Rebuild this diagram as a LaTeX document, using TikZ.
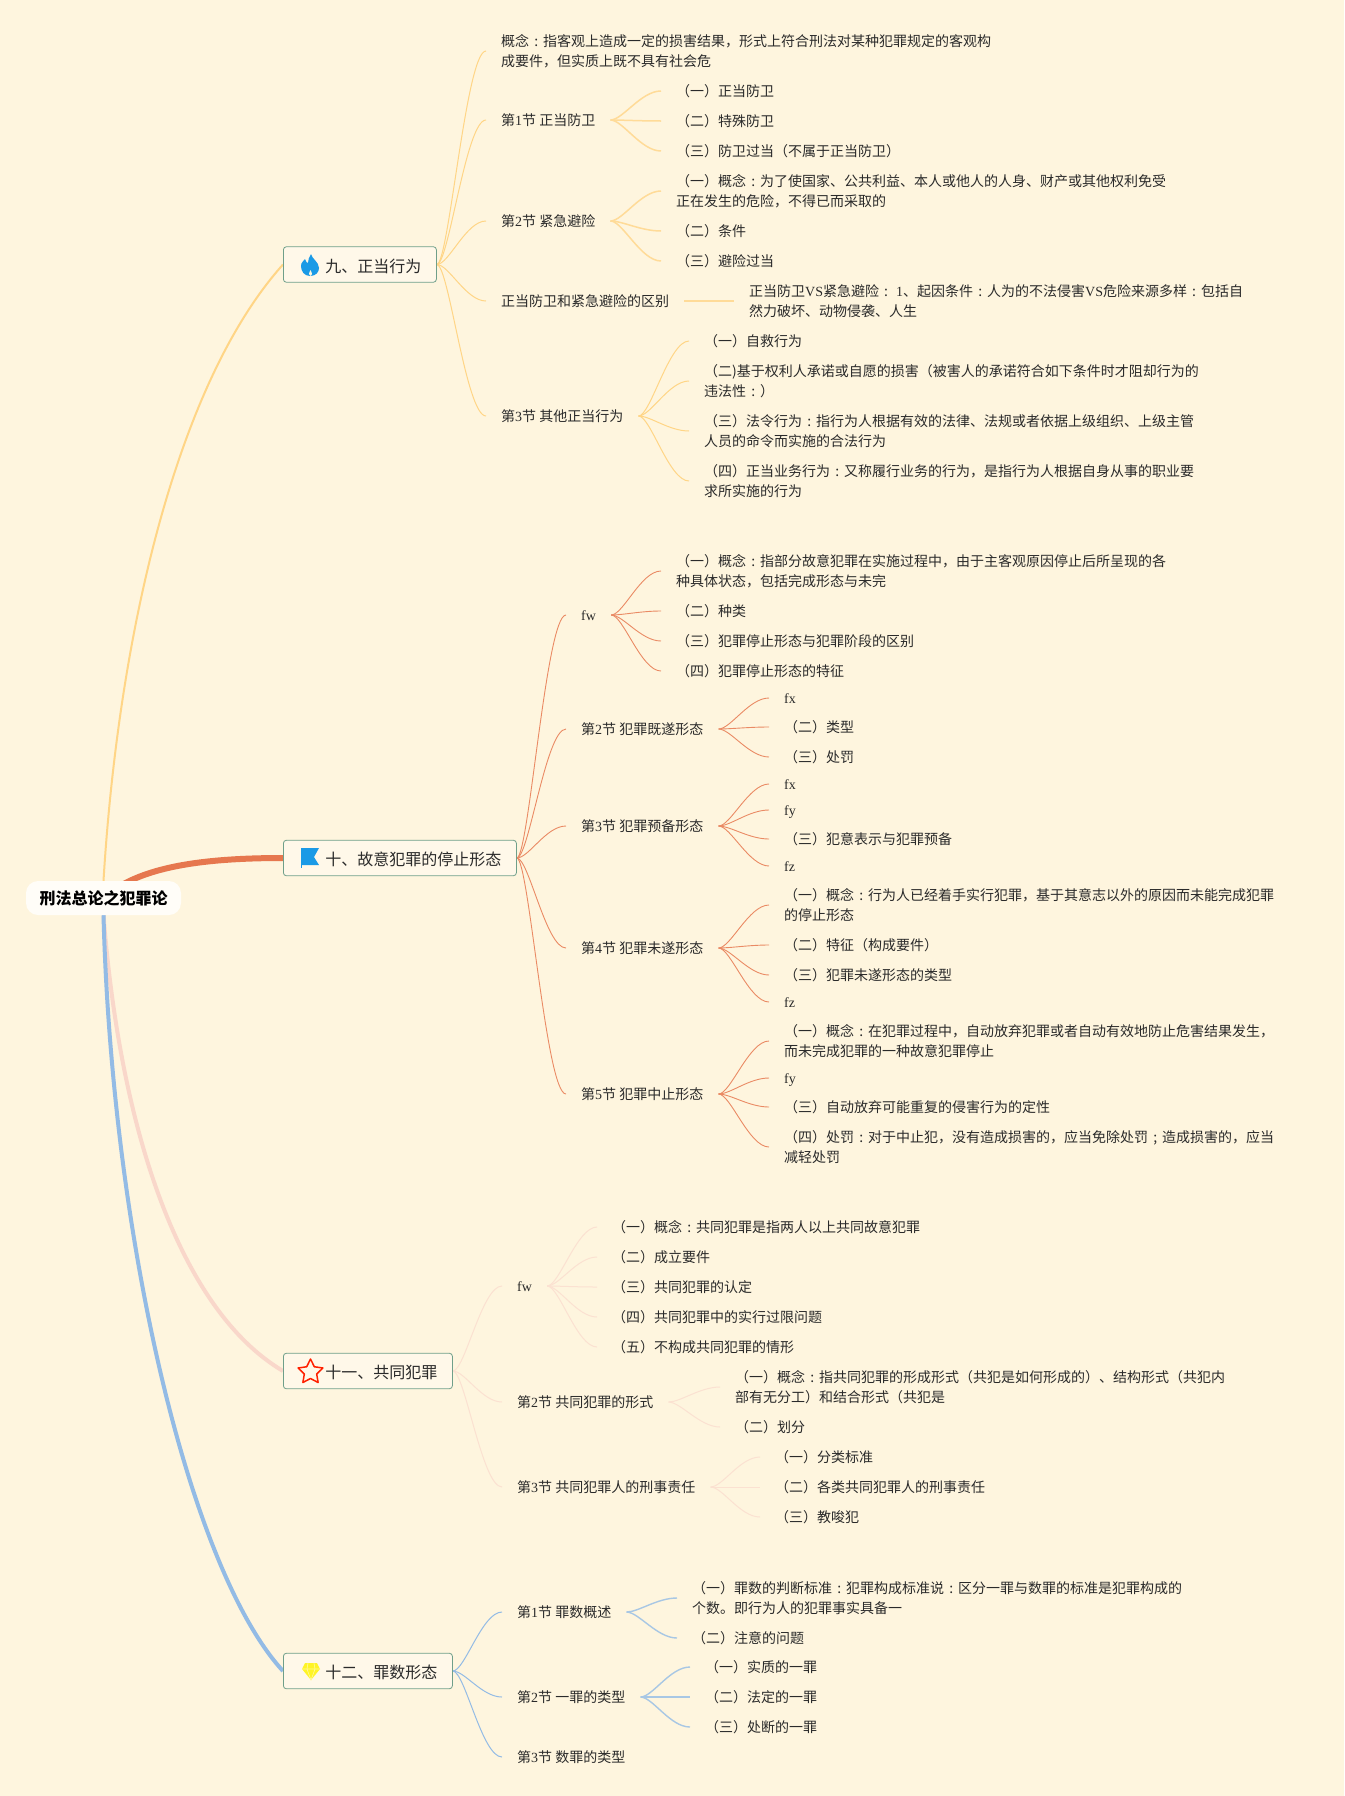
\documentclass[tikz,border=0pt]{standalone}
\usepackage{xcolor}
\usepackage{fontspec}
\usepackage{tikz}
\usetikzlibrary{backgrounds}
\setmainfont{Noto Sans CJK SC}
\newfontfamily\latfont{Liberation Serif}
\newcommand{\lat}[1]{{\latfont #1}}
\newcommand{\cln}{\hbox to 14pt{\hss:\hss}}
\newcommand{\scln}{\hbox to 14pt{\hss;\hss}}
\definecolor{paper}{HTML}{FEF5DE}
\definecolor{boxline}{HTML}{6F9F8A}
\definecolor{boxfill}{HTML}{FFF8E9}
\definecolor{rootfill}{HTML}{FFFDF8}
\definecolor{ink}{HTML}{2A2A2A}
\definecolor{ylw}{HTML}{FFD586}
\definecolor{org}{HTML}{E6774E}
\definecolor{pnk}{HTML}{F9D7CA}
\definecolor{blu}{HTML}{93BBE5}
\definecolor{iconblue}{HTML}{1A9AE6}
\tikzset{
  % Central topic and the four chapter boxes
  rootbox/.style={fill=rootfill,rounded corners=12pt,minimum width=155pt,minimum height=34pt,
                  inner sep=0pt,font=\fontsize{16}{20}\selectfont\bfseries,text=black,
                  text height=15pt,text depth=2pt},
  chapter/.style={draw=boxline,thick,fill=boxfill,rounded corners=3pt,anchor=west,inner xsep=15pt,
                  minimum height=35.5pt,font=\fontsize{16}{20}\selectfont,text=ink,
                  text height=17pt,text depth=2pt},
  % Plain text topics
  topic2/.style={anchor=west,inner xsep=15pt,inner ysep=0pt,align=left,
                 font=\fontsize{14}{20}\selectfont,text=ink},
  topic/.style={topic2,text height=13pt,text depth=2pt},
  % Connectors
  mm/.style={to path={.. controls +(12,0) and +(-20,0) .. (\tikztotarget)}},
  ly/.style={ylw,line width=1pt},
  lyy/.style={ylw!80!paper,line width=1.5pt},
  lo/.style={org!85!paper,line width=.9pt},
  lp/.style={pnk!65!paper,line width=1pt},
  lb/.style={blu,line width=1pt},
  lbb/.style={blu!80!paper,line width=1.4pt},
  % Icons
  flameicon/.pic={
    \fill[iconblue] (0,11) .. controls (-6,11) and (-9,6) .. (-9,1) .. controls (-9,-3) and (-6,-4) .. (-5,-6)
      .. controls (-4,-3) and (-3,-2) .. (-2,-2) .. controls (-2,-5) and (-1,-8) .. (1,-11)
      .. controls (2,-6) and (9,-3) .. (9,3) .. controls (9,7) and (6,11) .. (0,11) -- cycle;
    \fill[paper] (0.5,11) .. controls (-1.5,10) and (-1.5,9) .. (0.5,5) .. controls (2.5,9) and (2.5,10) .. (0.5,11) -- cycle;
  },
  flagicon/.pic={
    \fill[iconblue] (-9,-10) -- (9,-10) -- (4,-1) -- (9,7) -- (-9,7) -- cycle;
    \draw[iconblue,line width=.8pt] (-9,-10) -- (-9,10);
  },
  staricon/.pic={
    \draw[red!75!orange,line width=1.5pt,line join=round]
      (-90:13) -- (-54:6.5) -- (-18:13) -- (18:6.5) -- (54:13) -- (90:6.5) -- (126:13)
      -- (162:6.5) -- (198:13) -- (234:6.5) -- cycle;
  },
  gemicon/.pic={
    \fill[yellow!85!white] (-6,-8.5) -- (6,-8.5) -- (9,-2.5) -- (0,8.5) -- (-9,-2.5) -- cycle;
    \draw[yellow!40!white,line width=.6pt] (-9,-2.5) -- (9,-2.5) (-3,-8.5) -- (-4,-2.5) -- (0,8.5) -- (4,-2.5) -- (3,-8.5);
  }
}
\begin{document}
\begin{tikzpicture}[x=1pt,y=-1pt]
  \useasboundingbox (0,0) rectangle (1344,1796);

  % Centre and chapters
  \node[rootbox] (root) at (103.5,898) {刑法总论之犯罪论};
  \node[chapter] (n9)  at (283,264.5) {\hspace*{27pt}九、正当行为};
  \node[chapter] (n10) at (283,858)   {\hspace*{27pt}十、故意犯罪的停止形态};
  \node[chapter] (n11) at (283,1371)  {\hspace*{27pt}十一、共同犯罪};
  \node[chapter] (n12) at (283,1671)  {\hspace*{27pt}十二、罪数形态};
  \pic at (310,265)    {flameicon};
  \pic at (310,858)    {flagicon};
  \pic at (310.5,1372) {staricon};
  \pic at (311,1671.5) {gemicon};

  % Chapter 9
  \node[topic2] (s90) at (486,51)  {概念\cln 指客观上造成一定的损害结果，形式上符合刑法对某种犯罪规定的客观构\\成要件，但实质上既不具有社会危};
  \node[topic] (s91) at (486,120) {第\lat{1}节 正当防卫};
  \node[topic] (s92) at (486,221) {第\lat{2}节 紧急避险};
  \node[topic] (s93) at (486,301) {正当防卫和紧急避险的区别};
  \node[topic] (s94) at (486,416) {第\lat{3}节 其他正当行为};
  \node[topic] (c911) at (661,91)  {（一）正当防卫};
  \node[topic] (c912) at (661,121) {（二）特殊防卫};
  \node[topic] (c913) at (661,151) {（三）防卫过当（不属于正当防卫）};
  \node[topic2] (c921) at (661,191) {（一）概念\cln 为了使国家、公共利益、本人或他人的人身、财产或其他权利免受\\正在发生的危险，不得已而采取的};
  \node[topic] (c922) at (661,231) {（二）条件};
  \node[topic] (c923) at (661,261) {（三）避险过当};
  \node[topic2] (c931) at (734,301) {正当防卫\lat{VS}紧急避险\cln{} \lat{1}、起因条件\cln 人为的不法侵害\lat{VS}危险来源多样\cln 包括自\\然力破坏、动物侵袭、人生};
  \node[topic] (c941) at (689,341) {（一）自救行为};
  \node[topic2] (c942) at (689,381) {（二)基于权利人承诺或自愿的损害（被害人的承诺符合如下条件时才阻却行为的\\违法性\cln ）};
  \node[topic2] (c943) at (689,431) {（三）法令行为\cln 指行为人根据有效的法律、法规或者依据上级组织、上级主管\\人员的命令而实施的合法行为};
  \node[topic2] (c944) at (689,481) {（四）正当业务行为\cln 又称履行业务的行为，是指行为人根据自身从事的职业要\\求所实施的行为};

  % Chapter 10
  \node[topic] (s101) at (566,615)  {\lat{fw}};
  \node[topic] (s102) at (566,729)  {第\lat{2}节 犯罪既遂形态};
  \node[topic] (s103) at (566,826)  {第\lat{3}节 犯罪预备形态};
  \node[topic] (s104) at (566,948)  {第\lat{4}节 犯罪未遂形态};
  \node[topic] (s105) at (566,1094) {第\lat{5}节 犯罪中止形态};
  \node[topic2] (c1011) at (661,571) {（一）概念\cln 指部分故意犯罪在实施过程中，由于主客观原因停止后所呈现的各\\种具体状态，包括完成形态与未完};
  \node[topic] (c1012) at (661,611) {（二）种类};
  \node[topic] (c1013) at (661,641) {（三）犯罪停止形态与犯罪阶段的区别};
  \node[topic] (c1014) at (661,671) {（四）犯罪停止形态的特征};
  \node[topic] (c1021) at (769,698) {\lat{fx}};
  \node[topic] (c1022) at (769,727) {（二）类型};
  \node[topic] (c1023) at (769,757) {（三）处罚};
  \node[topic] (c1031) at (769,784) {\lat{fx}};
  \node[topic] (c1032) at (769,810) {\lat{fy}};
  \node[topic] (c1033) at (769,839) {（三）犯意表示与犯罪预备};
  \node[topic] (c1034) at (769,866) {\lat{fz}};
  \node[topic2] (c1041) at (769,905) {（一）概念\cln 行为人已经着手实行犯罪，基于其意志以外的原因而未能完成犯罪\\的停止形态};
  \node[topic] (c1042) at (769,945) {（二）特征（构成要件）};
  \node[topic] (c1043) at (769,975) {（三）犯罪未遂形态的类型};
  \node[topic] (c1044) at (769,1002) {\lat{fz}};
  \node[topic2] (c1051) at (769,1041) {（一）概念\cln 在犯罪过程中，自动放弃犯罪或者自动有效地防止危害结果发生，\\而未完成犯罪的一种故意犯罪停止};
  \node[topic] (c1052) at (769,1078) {\lat{fy}};
  \node[topic] (c1053) at (769,1107) {（三）自动放弃可能重复的侵害行为的定性};
  \node[topic2] (c1054) at (769,1147) {（四）处罚\cln 对于中止犯，没有造成损害的，应当免除处罚\scln 造成损害的，应当\\减轻处罚};

  % Chapter 11
  \node[topic] (s111) at (502,1286) {\lat{fw}};
  \node[topic] (s112) at (502,1402) {第\lat{2}节 共同犯罪的形式};
  \node[topic] (s113) at (502,1487) {第\lat{3}节 共同犯罪人的刑事责任};
  \node[topic] (c1111) at (597,1227) {（一）概念\cln 共同犯罪是指两人以上共同故意犯罪};
  \node[topic] (c1112) at (597,1257) {（二）成立要件};
  \node[topic] (c1113) at (597,1287) {（三）共同犯罪的认定};
  \node[topic] (c1114) at (597,1317) {（四）共同犯罪中的实行过限问题};
  \node[topic] (c1115) at (597,1347) {（五）不构成共同犯罪的情形};
  \node[topic2] (c1121) at (720,1387) {（一）概念\cln 指共同犯罪的形成形式（共犯是如何形成的）、结构形式（共犯内\\部有无分工）和结合形式（共犯是};
  \node[topic] (c1122) at (720,1427) {（二）划分};
  \node[topic] (c1131) at (760,1457) {（一）分类标准};
  \node[topic] (c1132) at (760,1487) {（二）各类共同犯罪人的刑事责任};
  \node[topic] (c1133) at (760,1517) {（三）教唆犯};

  % Chapter 12
  \node[topic] (s121) at (502,1612) {第\lat{1}节 罪数概述};
  \node[topic] (s122) at (502,1697) {第\lat{2}节 一罪的类型};
  \node[topic] (s123) at (502,1757) {第\lat{3}节 数罪的类型};
  \node[topic2] (c1211) at (677,1598) {（一）罪数的判断标准\cln 犯罪构成标准说\cln 区分一罪与数罪的标准是犯罪构成的\\个数。即行为人的犯罪事实具备一};
  \node[topic] (c1212) at (677,1638) {（二）注意的问题};
  \node[topic] (c1221) at (690,1667) {（一）实质的一罪};
  \node[topic] (c1222) at (690,1697) {（二）法定的一罪};
  \node[topic] (c1223) at (690,1727) {（三）处断的一罪};

  \begin{scope}[on background layer]
    \fill[paper] (0,0) rectangle (1344,1796);

    % Main branches
    \draw[ylw,line width=2pt] (root.north) .. controls (118,640) and (175,385) .. (n9.west);
    \draw[org,line width=6pt] (root.center) .. controls (135,870) and (190,858) .. (n10.west);
    \draw[pnk,line width=4pt] (root.south) .. controls (120,1130) and (180,1310) .. (n11.west);
    \draw[blu,line width=4pt] (root.south) .. controls (112,1240) and (190,1570) .. (n12.west);

    % Chapter 9
    \draw[ly] (n9.east) to[mm] (s90.west);
    \draw[ly] (n9.east) to[mm] (s91.west);
    \draw[ly] (n9.east) to[mm] (s92.west);
    \draw[ly] (n9.east) to[mm] (s93.west);
    \draw[ly] (n9.east) to[mm] (s94.west);
    \draw[lyy] (s91.east) to[mm] (c911.west);
    \draw[lyy] (s91.east) to[mm] (c912.west);
    \draw[lyy] (s91.east) to[mm] (c913.west);
    \draw[lyy] (s92.east) to[mm] (c921.west);
    \draw[lyy] (s92.east) to[mm] (c922.west);
    \draw[lyy] (s92.east) to[mm] (c923.west);
    \draw[lyy] (s93.east) to[mm] (c931.west);
    \draw[ly] (s94.east) to[mm] (c941.west);
    \draw[ly] (s94.east) to[mm] (c942.west);
    \draw[ly] (s94.east) to[mm] (c943.west);
    \draw[ly] (s94.east) to[mm] (c944.west);

    % Chapter 10
    \draw[lo] (n10.east) to[mm] (s101.west);
    \draw[lo] (n10.east) to[mm] (s102.west);
    \draw[lo] (n10.east) to[mm] (s103.west);
    \draw[lo] (n10.east) to[mm] (s104.west);
    \draw[lo] (n10.east) to[mm] (s105.west);
    \draw[lo] (s101.east) to[mm] (c1011.west);
    \draw[lo] (s101.east) to[mm] (c1012.west);
    \draw[lo] (s101.east) to[mm] (c1013.west);
    \draw[lo] (s101.east) to[mm] (c1014.west);
    \draw[lo] (s102.east) to[mm] (c1021.west);
    \draw[lo] (s102.east) to[mm] (c1022.west);
    \draw[lo] (s102.east) to[mm] (c1023.west);
    \draw[lo] (s103.east) to[mm] (c1031.west);
    \draw[lo] (s103.east) to[mm] (c1032.west);
    \draw[lo] (s103.east) to[mm] (c1033.west);
    \draw[lo] (s103.east) to[mm] (c1034.west);
    \draw[lo] (s104.east) to[mm] (c1041.west);
    \draw[lo] (s104.east) to[mm] (c1042.west);
    \draw[lo] (s104.east) to[mm] (c1043.west);
    \draw[lo] (s104.east) to[mm] (c1044.west);
    \draw[lo] (s105.east) to[mm] (c1051.west);
    \draw[lo] (s105.east) to[mm] (c1052.west);
    \draw[lo] (s105.east) to[mm] (c1053.west);
    \draw[lo] (s105.east) to[mm] (c1054.west);

    % Chapter 11
    \draw[lp] (n11.east) to[mm] (s111.west);
    \draw[lp] (n11.east) to[mm] (s112.west);
    \draw[lp] (n11.east) to[mm] (s113.west);
    \draw[lp] (s111.east) to[mm] (c1111.west);
    \draw[lp] (s111.east) to[mm] (c1112.west);
    \draw[lp] (s111.east) to[mm] (c1113.west);
    \draw[lp] (s111.east) to[mm] (c1114.west);
    \draw[lp] (s111.east) to[mm] (c1115.west);
    \draw[lp] (s112.east) to[mm] (c1121.west);
    \draw[lp] (s112.east) to[mm] (c1122.west);
    \draw[lp] (s113.east) to[mm] (c1131.west);
    \draw[lp] (s113.east) to[mm] (c1132.west);
    \draw[lp] (s113.east) to[mm] (c1133.west);

    % Chapter 12
    \draw[lb] (n12.east) to[mm] (s121.west);
    \draw[lb] (n12.east) to[mm] (s122.west);
    \draw[lb] (n12.east) to[mm] (s123.west);
    \draw[lbb] (s121.east) to[mm] (c1211.west);
    \draw[lbb] (s121.east) to[mm] (c1212.west);
    \draw[lbb] (s122.east) to[mm] (c1221.west);
    \draw[lbb] (s122.east) to[mm] (c1222.west);
    \draw[lbb] (s122.east) to[mm] (c1223.west);
  \end{scope}
\end{tikzpicture}
\end{document}
